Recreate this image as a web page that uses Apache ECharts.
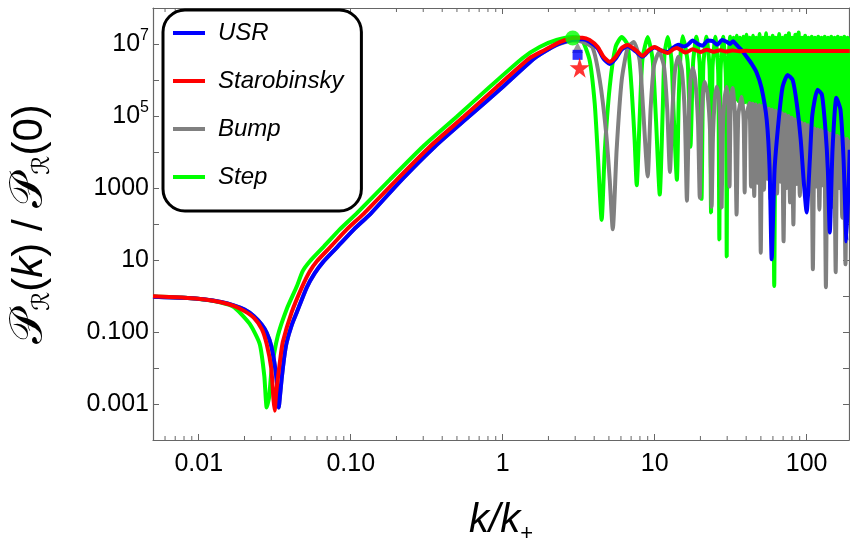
<!DOCTYPE html>
<html>
<head>
<meta charset="utf-8">
<script src="https://cdn.jsdelivr.net/npm/echarts@6/dist/echarts.min.js"></script>
<style>
  html, body { margin: 0; padding: 0; background: #fff; }
  #chart { width: 850px; height: 543px; }
</style>
</head>
<body>
<div id="chart"></div>
<script>
// [k/k+, P(k)/P(0)]
const usrData = [
  [0.005, 0.96], [0.008, 0.89], [0.011, 0.8], [0.014, 0.68], [0.017, 0.55], [0.02, 0.42],
  [0.023, 0.28], [0.026, 0.16], [0.028, 0.095], [0.03, 0.041], [0.032, 0.0087], [0.033, 0.0025],
  [0.0336, 0.0008], [0.0343, 0.0018], [0.0351, 0.0049], [0.0365, 0.02], [0.0379, 0.052],
  [0.041, 0.16], [0.0442, 0.355], [0.0514, 1.74], [0.058, 4.3], [0.0655, 8.6], [0.0809, 22],
  [0.105, 71], [0.1355, 195], [0.217, 1710], [0.357, 1.4e4], [0.597, 9.5e4], [1.0, 6.4e5],
  [1.63, 4.1e6], [2.26, 9.4e6],
  [2.89, 1.3e7], [3.36, 1.35e7], [3.73, 1.15e7], [4.22, 7.5e6], [4.61, 3.9e6], [5.06, 2.8e6],
  [5.53, 3.9e6], [6.07, 7.0e6], [6.64, 8.6e6], [7.5, 6.2e6], [8.3, 4.4e6], [9.14, 6.4e6],
  [10, 8.0e6], [10.9, 6.8e6], [12.2, 6.0e6], [13.3, 8.0e6], [14.3, 9.5e6], [15.5, 8.5e6],
  [16.5, 9.5e6], [17.8, 1.25e7], [19.2, 1.0e7], [20.7, 9.0e6], [22.4, 1.25e7], [24.1, 1.2e7],
  [25.8, 9.5e6], [27.8, 1.3e7], [29.8, 1.15e7], [31.3, 1.0e7], [32.8, 1.2e7], [34.6, 9.4e6],
  [37.3, 6.8e6], [40.3, 4.4e6], [43.5, 2.8e6], [46.9, 1.6e6], [50.5, 6e5], [54.6, 7.9e4],
  [57.1, 3.2e3], [58.9, 10.5], [61.5, 3.2e3], [65.5, 7.9e4], [69.5, 6.5e5], [75, 1.38e6],
  [80.9, 1.0e6], [86, 2.3e5], [91.4, 2.2e4], [95.5, 1.7e3], [100, 210], [105, 6.2e3],
  [109, 1.07e5], [118, 5.4e5], [126, 3.9e5], [133, 4.2e4], [138, 3e3], [142, 58],
  [148, 1.15e4], [157, 3.2e5], [167, 1.5e5], [175, 6.2e3], [183, 33], [192, 1.15e4]
];

const starobinskyData = [
  [0.005, 0.98], [0.008, 0.9], [0.011, 0.8], [0.014, 0.67], [0.017, 0.53], [0.02, 0.38],
  [0.023, 0.25], [0.026, 0.12], [0.028, 0.046], [0.03, 0.0098], [0.031, 0.0014],
  [0.0316, 0.00065], [0.0323, 0.002], [0.0331, 0.0049], [0.0344, 0.018], [0.0357, 0.052],
  [0.0409, 0.355], [0.0477, 1.74], [0.0537, 4.8], [0.0597, 9.1], [0.0728, 22], [0.0942, 71],
  [0.122, 195], [0.201, 1710],
  [0.331, 1.4e4], [0.553, 9.5e4], [0.914, 6.4e5], [1.51, 4.1e6], [1.89, 6.8e6], [2.37, 1.13e7],
  [2.98, 1.5e7], [3.36, 1.5e7], [3.73, 1.3e7], [4.22, 8.3e6], [4.61, 4.4e6], [5.06, 3.2e6],
  [5.53, 4.4e6], [6.07, 7.8e6], [6.64, 9.4e6], [7.5, 6.8e6], [8.3, 4.7e6], [9.14, 6.8e6],
  [10, 8.3e6], [10.9, 6.8e6], [12.2, 5.6e6], [13.3, 7.2e6], [14, 7.8e6], [16, 5.8e6],
  [17.8, 7.2e6], [20, 6.0e6], [22, 6.9e6], [24.5, 6.1e6], [27, 6.7e6], [29.5, 6.2e6],
  [32.5, 6.6e6], [36, 6.3e6], [40, 6.5e6], [45, 6.35e6], [60, 6.4e6], [100, 6.4e6], [192, 6.4e6]
];

const bumpData = [
  [0.005, 0.96], [0.008, 0.89], [0.011, 0.8], [0.014, 0.68], [0.017, 0.55], [0.02, 0.42],
  [0.023, 0.28], [0.026, 0.16], [0.028, 0.095], [0.03, 0.041], [0.032, 0.0087], [0.033, 0.0025],
  [0.0336, 0.0008], [0.0343, 0.0018], [0.0351, 0.0049], [0.0365, 0.02], [0.0379, 0.052],
  [0.041, 0.16], [0.0442, 0.355], [0.0514, 1.74], [0.058, 4.3], [0.0655, 8.6], [0.0809, 22],
  [0.105, 71], [0.1355, 195], [0.217, 1710], [0.357, 1.4e4], [0.597, 9.5e4], [1.0, 6.4e5],
  [1.63, 4.1e6], [2.26, 9.4e6],
  [2.89, 1.25e7], [3.36, 1.15e7], [3.9, 8e6], [4.35, 1e6], [4.77, 4.2e4], [5.06, 1.7e3],
  [5.3, 71], [5.62, 1.15e4], [6.07, 1e6], [6.64, 7.8e6], [7.28, 1.14e7], [7.96, 3.6e6],
  [8.4, 1.5e5], [9.0, 2.1e3], [9.4, 1.5e5], [9.9, 2.5e6], [10.7, 6e6], [11.5, 2.5e6],
  [12.1, 1.5e5], [12.6, 2.8e3], [13.1, 1.5e5], [13.6, 1.8e6], [14.3, 4.4e6], [15.1, 1.8e6],
  [15.8, 1e5], [16.3, 445], [16.8, 1e5], [17.2, 1e6], [17.8, 2.2e6], [18.5, 1e6], [19.3, 6e4],
  [19.8, 540], [20.3, 6e4], [20.8, 4.5e5], [21.3, 8.9e5], [22.3, 4e5], [23.2, 3e4], [23.7, 300],
  [24.2, 3e4], [24.9, 3e5], [25.6, 6.5e5], [26.5, 3e5], [27.2, 2.5e4], [27.6, 285], [28.0, 2.5e4],
  [28.8, 3e5], [29.8, 6.5e5], [30.6, 1.5e5], [31.1, 1.1e3], [31.6, 1.5e5], [32.6, 6e5],
  [33.7, 1.2e5], [34.6, 183], [35.5, 1e5], [37.3, 3.4e5], [38.5, 8e4], [39.1, 750], [39.8, 8e4],
  [42, 2.3e5], [43.05, 1.1e3], [44.1, 2.2e5], [45.2, 600], [46.3, 2.1e5], [47.5, 1.4e3],
  [48.7, 2.0e5], [49.9, 16], [51.1, 1.9e5], [52.4, 900], [53.7, 1.8e5], [55.1, 1.8e3],
  [56.4, 1.6e5], [57.8, 500], [59.3, 1.5e5], [60.8, 1.2e3], [62.3, 1.4e5], [63.9, 700],
  [65.5, 1.3e5], [67.1, 1.5e3], [68.8, 1.2e5], [70.5, 33], [72.3, 1.1e5], [74.1, 1.0e3],
  [75.9, 1.0e5], [77.8, 400], [79.8, 9e4], [81.8, 97], [83.8, 8e4], [85.9, 1.3e3],
  [88.0, 7e4], [90.2, 600], [92.5, 6.5e4], [94.8, 1.5e3], [97.2, 6e4], [99.6, 350],
  [102.1, 5.5e4], [104.6, 900], [107.2, 5e4], [109.9, 5.5], [112.7, 4.5e4], [115.5, 1.1e3],
  [118.4, 4.2e4], [121.3, 250], [124.4, 4e4], [127.5, 1.2e3], [130.6, 3.7e4], [133.9, 1.75],
  [137.3, 3.4e4], [140.7, 800], [144.2, 3.2e4], [147.8, 300], [151.5, 3e4], [155.3, 4.6],
  [159.2, 2.8e4], [163.1, 1e3], [167.2, 2.6e4], [171.4, 150], [175.7, 2.4e4], [180.1, 7.6],
  [184.6, 2.3e4], [189.2, 600], [193.9, 2.2e4]
];

const stepData = [
  [0.005, 0.97], [0.008, 0.9], [0.0118, 0.76], [0.0168, 0.51], [0.0216, 0.17], [0.0252, 0.046],
  [0.027, 0.006], [0.028, 0.0008], [0.029, 0.0015], [0.0302, 0.0093], [0.0331, 0.077],
  [0.0379, 0.43], [0.0442, 1.86], [0.0483, 4.9], [0.0537, 9.1], [0.0655, 22], [0.0847, 71],
  [0.109, 195], [0.181, 1710],
  [0.298, 1.4e4], [0.498, 9.5e4], [0.82, 6.4e5], [1.355, 4.1e6], [1.75, 8.3e6], [2.26, 1.29e7],
  [2.89, 1.56e7], [3.3, 1.4e7], [3.73, 3.6e6], [4.03, 2.3e5], [4.22, 9.5e3], [4.48, 130],
  [4.69, 9.5e3], [5.06, 6.4e5], [5.53, 8.3e6], [6.07, 1.56e7], [6.64, 9.4e6], [7.06, 5.3e5],
  [7.38, 2.2e4], [7.62, 1.2e3], [7.96, 8e4], [8.3, 3.6e6], [9.0, 1.56e7], [9.7, 3.6e6],
  [10.2, 8e4], [10.8, 660], [11.3, 1.5e5], [11.6, 5e6], [12.2, 1.56e7], [12.9, 3.6e6],
  [13.3, 1.5e5], [14.0, 1.7e3], [14.4, 2.8e5], [14.8, 5e6], [15.3, 1.65e7], [16.5, 3e6],
  [17.2, 1.4e4], [17.9, 3e6], [18.8, 1.6e7], [19.8, 2.5e6], [20.35, 500], [20.9, 2.5e6],
  [21.9, 1.6e7], [23.0, 2e6], [23.5, 210], [24.0, 2e6], [25.1, 1.6e7], [26.2, 1.5e6],
  [26.65, 37], [27.1, 1.5e6], [28.2, 1.6e7], [29.4, 1.2e6], [29.8, 12.6], [30.2, 1.2e6],
  [31.4, 1.6e7], [32.2, 3e5], [33.0, 1.5e7], [33.8, 2.8e5], [34.7, 1.7e7], [35.5, 2.6e5],
  [36.4, 1.5e7], [37.3, 2.5e5], [38.3, 1.6e7], [39.2, 2.4e5], [40.2, 1.8e7], [41.2, 2.2e5],
  [42.2, 1.5e7], [43.3, 2.1e5], [44.4, 1.7e7], [45.5, 2e5], [46.6, 1.5e7], [47.8, 1.9e5],
  [49.0, 1.9e7], [50.2, 1.7e5], [51.5, 1.5e7], [52.8, 1.5e5], [54.1, 2.0e7], [55.4, 1.3e5],
  [56.8, 1.5e7], [58.2, 1.2e5], [59.7, 1.7e7], [61.2, 1.9], [62.7, 1.5e7], [64.3, 1.1e5],
  [65.9, 1.9e7], [67.5, 1e5], [69.2, 1.5e7], [70.9, 9e4], [72.7, 1.7e7], [74.5, 8.5e4],
  [76.4, 2.0e7], [78.3, 8e4], [80.3, 1.5e7], [82.3, 7e4], [84.3, 1.8e7], [86.4, 6.5e4],
  [88.6, 2.1e7], [90.8, 6e4], [93.1, 1.5e7], [95.4, 5.5e4], [97.8, 1.7e7], [100.3, 5e4],
  [102.8, 1.5e7], [105.3, 4.6e4], [108.0, 1.6e7], [110.7, 4.3e4], [113.4, 1.5e7], [116.3, 4e4],
  [119.2, 1.6e7], [122.2, 3.7e4], [125.2, 1.5e7], [128.3, 3.4e4], [131.5, 1.6e7], [134.8, 3.2e4],
  [138.2, 1.5e7], [141.7, 3e4], [145.2, 1.6e7], [148.9, 2.9e4], [152.6, 1.5e7], [156.4, 2.8e4],
  [160.3, 1.6e7], [164.3, 2.7e4], [168.4, 1.5e7], [172.6, 2.6e4], [176.9, 1.6e7], [181.4, 2.5e4],
  [185.9, 1.5e7], [190.5, 2.5e4], [195.3, 1.5e7]
];

// peak markers
const stepPeak = [[2.89, 1.47e7]];
const bumpPeak = [[3.11, 8.0e6]];
const usrPeak = [[3.11, 5.0e6]];
const staroPeak = [[3.21, 2.2e6]];

// minor ticks on the k axis
const minorTicksX = [
  0.006, 0.007, 0.008, 0.009,
  0.02, 0.03, 0.04, 0.05, 0.06, 0.07, 0.08, 0.09,
  0.2, 0.3, 0.4, 0.5, 0.6, 0.7, 0.8, 0.9,
  2, 3, 4, 5, 6, 7, 8, 9,
  20, 30, 40, 50, 60, 70, 80, 90
];

const xLabels = { '-2': '0.01', '-1': '0.10', '0': '1', '1': '10', '2': '100' };
const yLabels = { '-3': '0.001', '-1': '0.100', '1': '10', '3': '1000' };

const axisColor = '#666';
const font = 'Liberation Sans, Arial, sans-serif';

const chart = echarts.init(document.getElementById('chart'));

function xFmt(v) {
  const e = Math.log10(v);
  const r = Math.round(e);
  if (Math.abs(e - r) > 0.01) return '';
  return xLabels[r] || '';
}

function yFmt(v) {
  const e = Math.log10(v);
  const r = Math.round(e);
  if (Math.abs(e - r) > 0.01) return '';
  if (r >= 5 && r % 2 === 1) return '{m|10}{e|' + r + '}';
  return yLabels[r] ? '{m|' + yLabels[r] + '}' : '';
}

const baseX = {
  type: 'log',
  logBase: 10,
  min: 0.005,
  max: 190,
  axisLine: { lineStyle: { color: axisColor, width: 1.2 } },
  axisTick: { inside: true, length: 6, lineStyle: { color: axisColor } },
  splitLine: { show: false }
};
const baseY = {
  type: 'log',
  logBase: 10,
  min: 1e-4,
  max: 1e8,
  interval: 1,
  splitNumber: 12,
  axisLine: { show: true, lineStyle: { color: axisColor, width: 1.2 } },
  axisTick: { show: true, inside: true, length: 6, lineStyle: { color: axisColor } },
  splitLine: { show: false }
};

const lineCommon = {
  type: 'line',
  showSymbol: false,
  symbol: 'none',
  smooth: 0.2,
  xAxisIndex: 0,
  yAxisIndex: 0
};

chart.setOption({
  animation: false,
  backgroundColor: '#fff',
  grid: { left: 153, right: 1, top: 8, bottom: 103, containLabel: false, outerBoundsMode: 'none' },
  legend: {
    data: ['USR', 'Starobinsky', 'Bump', 'Step'],
    orient: 'vertical',
    left: 163,
    top: 10,
    icon: 'rect',
    itemWidth: 32,
    itemHeight: 4,
    itemGap: 24,
    padding: [11, 18, 22, 10],
    borderColor: '#000',
    borderWidth: 3,
    borderRadius: 22,
    backgroundColor: '#fff',
    selectedMode: false,
    textStyle: {
      fontSize: 24, fontStyle: 'italic', fontFamily: font, color: '#000',
      lineHeight: 24, padding: [0, 0, 0, 8]
    }
  },
  xAxis: [
    Object.assign({}, baseX, {
      position: 'bottom',
      axisLabel: { formatter: xFmt, fontSize: 25, fontFamily: font, color: '#000', margin: 12 },
      name: '{k|k/k}{s|+}',
      nameLocation: 'middle',
      nameGap: 57,
      nameTextStyle: {
        rich: {
          k: { fontSize: 40, fontStyle: 'italic', fontFamily: font, color: '#000', lineHeight: 48, verticalAlign: 'middle' },
          s: { fontSize: 22, fontFamily: font, color: '#000', lineHeight: 22, verticalAlign: 'bottom' }
        }
      }
    }),
    Object.assign({}, baseX, { position: 'top', axisLabel: { show: false } })
  ],
  yAxis: [
    Object.assign({}, baseY, {
      position: 'left',
      axisLabel: {
        formatter: yFmt, margin: 4,
        rich: {
          m: { fontSize: 25, fontFamily: font, color: '#000', lineHeight: 32, verticalAlign: 'middle' },
          e: { fontSize: 16, fontFamily: font, color: '#000', lineHeight: 16, verticalAlign: 'top' }
        }
      },
      name: '{p|𝒫}{r|ℛ}{t|(}{i|k}{t|) / }{p|𝒫}{r|ℛ}{t|(0)}',
      nameLocation: 'middle',
      nameRotate: 90,
      nameGap: 98,
      nameTextStyle: {
        rich: {
          p: { fontSize: 46, fontFamily: 'DejaVu Sans, serif', color: '#000', lineHeight: 50, verticalAlign: 'middle' },
          r: { fontSize: 24, fontFamily: 'DejaVu Sans, serif', color: '#000', lineHeight: 26, verticalAlign: 'bottom' },
          t: { fontSize: 42, fontFamily: font, color: '#000', lineHeight: 50, verticalAlign: 'middle' },
          i: { fontSize: 42, fontStyle: 'italic', fontFamily: font, color: '#000', lineHeight: 50, verticalAlign: 'middle' }
        }
      }
    }),
    Object.assign({}, baseY, { position: 'right', axisLabel: { show: false } })
  ],
  series: [
    Object.assign({}, lineCommon, { name: 'Step', data: stepData, color: '#00ff00', lineStyle: { width: 4, color: '#00ff00' } }),
    Object.assign({}, lineCommon, { name: 'Bump', data: bumpData, color: '#808080', lineStyle: { width: 4, color: '#808080' } }),
    Object.assign({}, lineCommon, { name: 'USR', data: usrData, color: '#0000ff', lineStyle: { width: 4, color: '#0000ff' } }),
    Object.assign({}, lineCommon, { name: 'Starobinsky', data: starobinskyData, color: '#ff0000', lineStyle: { width: 4, color: '#ff0000' } }),
    { type: 'scatter', name: 'bumpPeak', data: bumpPeak, symbol: 'triangle', symbolSize: 11, itemStyle: { color: '#808080' }, z: 5 },
    { type: 'scatter', name: 'usrPeak', data: usrPeak, symbol: 'rect', symbolSize: 10, itemStyle: { color: '#0000ff' }, z: 5 },
    {
      type: 'scatter', name: 'staroPeak', data: staroPeak, z: 5,
      symbol: 'path://M50,0 L61,35 L98,35 L68,57 L79,91 L50,70 L21,91 L32,57 L2,35 L39,35 Z',
      symbolSize: 20, itemStyle: { color: '#ff0000' }
    },
    { type: 'scatter', name: 'stepPeak', data: stepPeak, symbol: 'circle', symbolSize: 15, itemStyle: { color: '#00ff00' }, z: 6 },
    {
      type: 'custom',
      name: 'minorTicks',
      silent: true,
      clip: false,
      z: 3,
      data: minorTicksX.map(function (k) { return [k, 1]; }),
      renderItem: function (params, api) {
        const x = api.coord([api.value(0), 1])[0];
        const cs = params.coordSys;
        const b = cs.y + cs.height;
        return {
          type: 'group',
          children: [
            { type: 'line', shape: { x1: x, y1: b, x2: x, y2: b - 4 }, style: { stroke: axisColor, lineWidth: 1 } },
            { type: 'line', shape: { x1: x, y1: cs.y, x2: x, y2: cs.y + 4 }, style: { stroke: axisColor, lineWidth: 1 } }
          ]
        };
      }
    }
  ]
});
</script>
</body>
</html>
